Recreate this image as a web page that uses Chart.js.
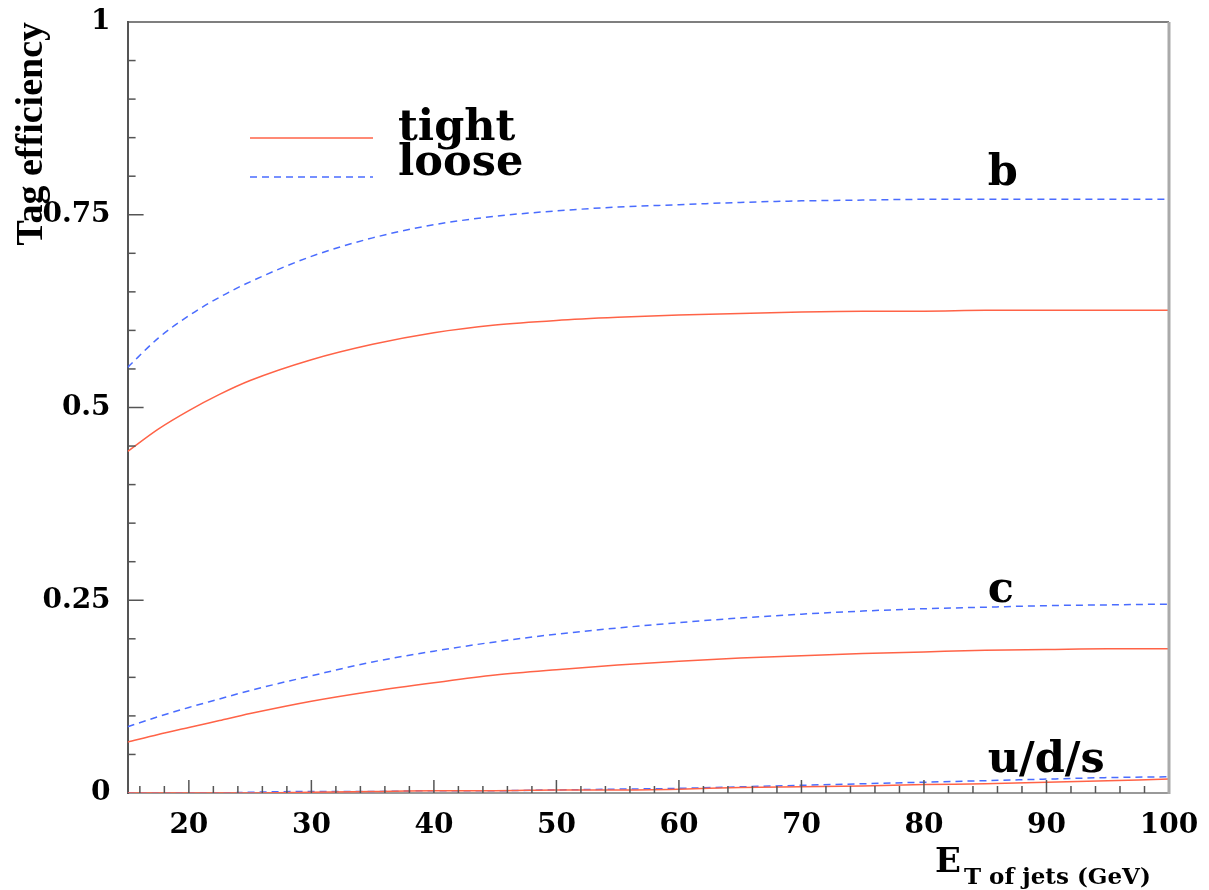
<!DOCTYPE html>
<html>
<head>
<meta charset="utf-8">
<title>Tag efficiency</title>
<script src="https://cdn.jsdelivr.net/npm/chart.js@4.4.0/dist/chart.umd.min.js"></script>
<style>
  html, body { margin: 0; padding: 0; background: #fff; }
  canvas { display: block; }
</style>
</head>
<body>
<canvas id="tag-eff-chart" width="1209" height="890"></canvas>
<script>
const etValues = [15, 17.5, 20, 22.5, 25, 30, 35, 40, 45, 50, 55, 60, 65, 70, 75, 80, 85, 90, 95, 100];

// b jets
const bTight = [0.443, 0.472, 0.496, 0.517, 0.535, 0.562, 0.582, 0.597, 0.607, 0.613, 0.617, 0.620, 0.622, 0.624, 0.625, 0.625, 0.626, 0.626, 0.626, 0.626];
const bLoose = [0.552, 0.590, 0.619, 0.643, 0.663, 0.696, 0.720, 0.737, 0.748, 0.755, 0.760, 0.763, 0.766, 0.768, 0.769, 0.770, 0.770, 0.770, 0.770, 0.770];
// c jets
const cTight = [0.066, 0.076, 0.085, 0.094, 0.103, 0.119, 0.132, 0.143, 0.153, 0.160, 0.166, 0.171, 0.175, 0.178, 0.181, 0.183, 0.185, 0.186, 0.187, 0.187];
const cLoose = [0.086, 0.099, 0.111, 0.122, 0.133, 0.152, 0.170, 0.184, 0.196, 0.206, 0.214, 0.221, 0.227, 0.232, 0.236, 0.239, 0.241, 0.243, 0.244, 0.245];
// light jets
const udsTight = [0, 0, 0, 0, 0, 0.001, 0.002, 0.003, 0.003, 0.004, 0.004, 0.005, 0.007, 0.008, 0.009, 0.011, 0.012, 0.014, 0.016, 0.018];
const udsLoose = [0, 0, 0, 0, 0.001, 0.002, 0.002, 0.003, 0.003, 0.004, 0.005, 0.006, 0.008, 0.010, 0.012, 0.014, 0.016, 0.018, 0.020, 0.021];

const xTickValues = [20, 30, 40, 50, 60, 70, 80, 90, 100];
const xTickLabels = ['20', '30', '40', '50', '60', '70', '80', '90', '100'];
const yTickValues = [0, 0.25, 0.5, 0.75, 1];
const yTickLabels = ['0', '0.25', '0.5', '0.75', '1'];

const legendLabels = ['tight', 'loose'];
const curveLabels = ['b', 'c', 'u/d/s'];
const curveLabelAt = [[85.2, 0.789], [85.2, 0.248], [85.2, 0.027]];

const SERIF = '"DejaVu Serif", serif';
const RED = '#ff6347';
const BLUE = '#4a6cff';
const LOOSE_DASH = [7, 5];

const toPoints = values => values.map((v, i) => ({ x: etValues[i], y: v }));

const makeLine = (label, values, color, dash) => ({
  label,
  data: toPoints(values),
  borderColor: color,
  borderWidth: 1.5,
  borderDash: dash,
  pointRadius: 0,
  cubicInterpolationMode: 'monotone',
  fill: false
});

// ROOT-like decorations: inward ticks, frame, legend, curve names, x title
const rootStyle = {
  id: 'rootStyle',
  afterDatasetsDraw(chart) {
    const { ctx, chartArea: area, scales: { x, y } } = chart;
    const seg = (x1, y1, x2, y2) => {
      ctx.beginPath();
      ctx.moveTo(x1, y1);
      ctx.lineTo(x2, y2);
      ctx.stroke();
    };
    ctx.save();

    ctx.strokeStyle = '#555';
    ctx.lineWidth = 1.5;
    for (let v = 16; v <= 100; v += 2) {
      const px = x.getPixelForValue(v);
      seg(px, area.bottom, px, area.bottom - (v % 10 === 0 ? 13 : 7));
    }
    for (let i = 1; i < 20; i++) {
      const py = y.getPixelForValue(i * 0.05);
      seg(area.left, py, area.left + (i % 5 === 0 ? 16 : 8), py);
    }

    // top and right side of the frame
    seg(area.left, area.top, area.right, area.top);
    ctx.strokeStyle = '#aaa';
    ctx.lineWidth = 3;
    seg(area.right, area.top, area.right, area.bottom + 1);

    // legend
    ctx.lineWidth = 1.5;
    ctx.strokeStyle = RED;
    seg(250, 138, 373, 138);
    ctx.strokeStyle = BLUE;
    ctx.setLineDash(LOOSE_DASH);
    seg(250, 177, 373, 177);
    ctx.setLineDash([]);

    ctx.fillStyle = '#000';
    ctx.textAlign = 'left';
    ctx.textBaseline = 'alphabetic';
    ctx.font = 'bold 43px ' + SERIF;
    ctx.fillText(legendLabels[0], 398, 140);
    ctx.fillText(legendLabels[1], 398, 175);

    curveLabels.forEach((text, i) => {
      const [vx, vy] = curveLabelAt[i];
      ctx.fillText(text, x.getPixelForValue(vx), y.getPixelForValue(vy));
    });

    // E_T of jets (GeV)
    ctx.font = 'bold 34px ' + SERIF;
    ctx.fillText('E', 935, 872);
    ctx.font = 'bold 23px ' + SERIF;
    ctx.fillText('T of jets (GeV)', 964, 884);

    ctx.restore();
  }
};

const canvas = document.getElementById('tag-eff-chart');
new Chart(canvas.getContext('2d'), {
  type: 'line',
  data: {
    datasets: [
      makeLine('b tight', bTight, RED, []),
      makeLine('b loose', bLoose, BLUE, LOOSE_DASH),
      makeLine('c tight', cTight, RED, []),
      makeLine('c loose', cLoose, BLUE, LOOSE_DASH),
      makeLine('u/d/s tight', udsTight, RED, []),
      makeLine('u/d/s loose', udsLoose, BLUE, LOOSE_DASH)
    ]
  },
  options: {
    responsive: false,
    animation: false,
    layout: { padding: { top: 22, right: 40, left: 0, bottom: 0 } },
    plugins: {
      legend: { display: false },
      tooltip: { enabled: false }
    },
    scales: {
      x: {
        type: 'linear',
        min: 15,
        max: 100,
        afterBuildTicks: scale => { scale.ticks = xTickValues.map(v => ({ value: v })); },
        afterFit: scale => {
          scale.height = 97;
          scale.paddingLeft = 0;
          scale.paddingRight = 0;
        },
        ticks: {
          padding: 16,
          color: '#000',
          maxRotation: 0,
          font: { family: SERIF, size: 28, weight: 'bold' },
          callback: (value, index) => xTickLabels[index]
        },
        grid: { display: false, drawTicks: false },
        border: { display: true, color: '#999', width: 2 }
      },
      y: {
        type: 'linear',
        min: 0,
        max: 1,
        afterBuildTicks: scale => { scale.ticks = yTickValues.map(v => ({ value: v })); },
        afterFit: scale => {
          scale.width = 127.6;
          scale.paddingTop = 0;
          scale.paddingBottom = 0;
        },
        ticks: {
          padding: 17,
          color: '#000',
          font: { family: SERIF, size: 28, weight: 'bold' },
          callback: (value, index) => yTickLabels[index]
        },
        grid: { display: false, drawTicks: false },
        border: { display: true, color: '#555', width: 2 },
        title: {
          display: true,
          text: 'Tag efficiency',
          align: 'end',
          color: '#000',
          padding: { top: 9, bottom: 0 },
          font: { family: '"Liberation Serif", serif', size: 38, weight: 'bold' }
        }
      }
    }
  },
  plugins: [rootStyle]
});
</script>
</body>
</html>
